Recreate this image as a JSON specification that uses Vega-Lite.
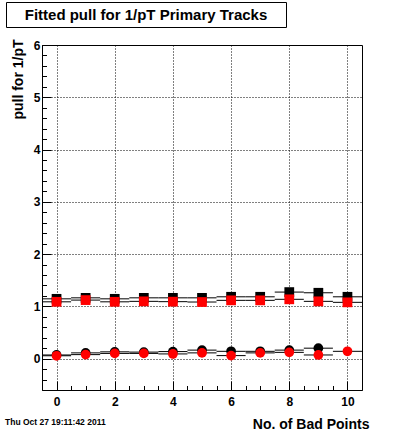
{
  "$schema": "https://vega.github.io/schema/vega-lite/v6.json",
  "padding": {"left": 4, "top": 1, "right": 0, "bottom": 0},
  "background": "white",
  "config": {"font": "Liberation Sans"},
  "spacing": 10,
  "vconcat": [
    {
      "width": 280,
      "height": 25,
      "data": {"values": [{"caption": "Fitted pull for 1/pT Primary Tracks"}]},
      "mark": {"type": "text", "font": "Liberation Sans", "fontWeight": "bold", "fontSize": 15, "color": "black"},
      "encoding": {"text": {"field": "caption", "type": "nominal"}},
      "view": {"stroke": "black", "strokeWidth": 1, "fill": "white"}
    },
    {
      "bounds": "flush",
      "spacing": 0,
      "hconcat": [
        {
          "width": 36,
          "height": 345,
          "data": {"values": []},
          "mark": "point",
          "view": {"stroke": null, "fill": null}
        },
        {
          "width": 320,
          "height": 345,
          "title": {"text": "Thu Oct 27 19:11:42 2011", "orient": "bottom", "anchor": "start", "frame": "group", "font": "Liberation Sans", "fontSize": 8.5, "fontWeight": "bold", "color": "black", "dx": -37, "dy": -17},
          "view": {"stroke": "black", "strokeWidth": 1},
          "data": {"values": [
            {"points": 0, "lo": -0.5, "hi": 0.5, "pull": 1.144, "hist": "black", "marker": "square"},
            {"points": 1, "lo": 0.5, "hi": 1.5, "pull": 1.163, "hist": "black", "marker": "square"},
            {"points": 2, "lo": 1.5, "hi": 2.5, "pull": 1.144, "hist": "black", "marker": "square"},
            {"points": 3, "lo": 2.5, "hi": 3.5, "pull": 1.163, "hist": "black", "marker": "square"},
            {"points": 4, "lo": 3.5, "hi": 4.5, "pull": 1.163, "hist": "black", "marker": "square"},
            {"points": 5, "lo": 4.5, "hi": 5.5, "pull": 1.163, "hist": "black", "marker": "square"},
            {"points": 6, "lo": 5.5, "hi": 6.5, "pull": 1.183, "hist": "black", "marker": "square"},
            {"points": 7, "lo": 6.5, "hi": 7.5, "pull": 1.183, "hist": "black", "marker": "square"},
            {"points": 8, "lo": 7.5, "hi": 8.5, "pull": 1.273, "hist": "black", "marker": "square"},
            {"points": 9, "lo": 8.5, "hi": 9.5, "pull": 1.26, "hist": "black", "marker": "square"},
            {"points": 10, "lo": 9.5, "hi": 10.5, "pull": 1.183, "hist": "black", "marker": "square"},
            {"points": 0, "lo": -0.5, "hi": 0.5, "pull": 0.07, "hist": "black", "marker": "circle"},
            {"points": 1, "lo": 0.5, "hi": 1.5, "pull": 0.11, "hist": "black", "marker": "circle"},
            {"points": 2, "lo": 1.5, "hi": 2.5, "pull": 0.13, "hist": "black", "marker": "circle"},
            {"points": 3, "lo": 2.5, "hi": 3.5, "pull": 0.125, "hist": "black", "marker": "circle"},
            {"points": 4, "lo": 3.5, "hi": 4.5, "pull": 0.135, "hist": "black", "marker": "circle"},
            {"points": 5, "lo": 4.5, "hi": 5.5, "pull": 0.163, "hist": "black", "marker": "circle"},
            {"points": 6, "lo": 5.5, "hi": 6.5, "pull": 0.14, "hist": "black", "marker": "circle"},
            {"points": 7, "lo": 6.5, "hi": 7.5, "pull": 0.14, "hist": "black", "marker": "circle"},
            {"points": 8, "lo": 7.5, "hi": 8.5, "pull": 0.163, "hist": "black", "marker": "circle"},
            {"points": 9, "lo": 8.5, "hi": 9.5, "pull": 0.2, "hist": "black", "marker": "circle"},
            {"points": 0, "lo": -0.5, "hi": 0.5, "pull": 1.087, "hist": "red", "marker": "square"},
            {"points": 1, "lo": 0.5, "hi": 1.5, "pull": 1.12, "hist": "red", "marker": "square"},
            {"points": 2, "lo": 1.5, "hi": 2.5, "pull": 1.087, "hist": "red", "marker": "square"},
            {"points": 3, "lo": 2.5, "hi": 3.5, "pull": 1.096, "hist": "red", "marker": "square"},
            {"points": 4, "lo": 3.5, "hi": 4.5, "pull": 1.09, "hist": "red", "marker": "square"},
            {"points": 5, "lo": 4.5, "hi": 5.5, "pull": 1.083, "hist": "red", "marker": "square"},
            {"points": 6, "lo": 5.5, "hi": 6.5, "pull": 1.115, "hist": "red", "marker": "square"},
            {"points": 7, "lo": 6.5, "hi": 7.5, "pull": 1.115, "hist": "red", "marker": "square"},
            {"points": 8, "lo": 7.5, "hi": 8.5, "pull": 1.135, "hist": "red", "marker": "square"},
            {"points": 9, "lo": 8.5, "hi": 9.5, "pull": 1.096, "hist": "red", "marker": "square"},
            {"points": 10, "lo": 9.5, "hi": 10.5, "pull": 1.077, "hist": "red", "marker": "square"},
            {"points": 0, "lo": -0.5, "hi": 0.5, "pull": 0.055, "hist": "red", "marker": "circle"},
            {"points": 1, "lo": 0.5, "hi": 1.5, "pull": 0.077, "hist": "red", "marker": "circle"},
            {"points": 2, "lo": 1.5, "hi": 2.5, "pull": 0.1, "hist": "red", "marker": "circle"},
            {"points": 3, "lo": 2.5, "hi": 3.5, "pull": 0.1, "hist": "red", "marker": "circle"},
            {"points": 4, "lo": 3.5, "hi": 4.5, "pull": 0.09, "hist": "red", "marker": "circle"},
            {"points": 5, "lo": 4.5, "hi": 5.5, "pull": 0.11, "hist": "red", "marker": "circle"},
            {"points": 6, "lo": 5.5, "hi": 6.5, "pull": 0.058, "hist": "red", "marker": "circle"},
            {"points": 7, "lo": 6.5, "hi": 7.5, "pull": 0.11, "hist": "red", "marker": "circle"},
            {"points": 8, "lo": 7.5, "hi": 8.5, "pull": 0.12, "hist": "red", "marker": "circle"},
            {"points": 9, "lo": 8.5, "hi": 9.5, "pull": 0.07, "hist": "red", "marker": "circle"},
            {"points": 10, "lo": 9.5, "hi": 10.5, "pull": 0.14, "hist": "red", "marker": "circle"}
          ]},
          "resolve": {"axis": {"x": "independent", "y": "independent"}},
          "layer": [
            {
              "mark": {"type": "rule", "color": "black", "strokeWidth": 1},
              "encoding": {
                "x": {"field": "lo", "type": "quantitative",
                  "scale": {"domain": [-0.5, 10.5], "nice": false, "zero": false},
                  "axis": {"orient": "bottom", "values": [0, 2, 4, 6, 8, 10], "format": "d",
                    "grid": true, "gridDash": [1, 2], "gridColor": "black", "gridOpacity": 1, "gridWidth": 1,
                    "domainColor": "black", "domainWidth": 1, "tickColor": "black", "tickSize": -9, "tickWidth": 1,
                    "labelFont": "Liberation Sans", "labelFontWeight": "bold", "labelFontSize": 12, "labelColor": "black", "labelPadding": 15,
                    "title": "No. of Bad Points", "titleFont": "Liberation Sans", "titleFontSize": 14, "titleFontWeight": "bold", "titleColor": "black",
                    "titleAnchor": "end", "titleAlign": "right", "titleX": 327, "titleY": 38, "titleBaseline": "alphabetic"}},
                "x2": {"field": "hi"},
                "y": {"field": "pull", "type": "quantitative",
                  "scale": {"domain": [-0.6, 6], "nice": false, "zero": false},
                  "axis": {"orient": "left", "values": [0, 1, 2, 3, 4, 5, 6], "format": "d",
                    "grid": true, "gridDash": [1, 2], "gridColor": "black", "gridOpacity": 1, "gridWidth": 1,
                    "domainColor": "black", "domainWidth": 1, "tickColor": "black", "tickSize": -9, "tickWidth": 1,
                    "labelFont": "Liberation Sans", "labelFontWeight": "bold", "labelFontSize": 12, "labelColor": "black", "labelPadding": 11,
                    "title": "pull for 1/pT", "titleFont": "Liberation Sans", "titleFontSize": 14, "titleFontWeight": "bold", "titleColor": "black",
                    "titleAnchor": "end", "titleAlign": "right", "titleX": -17, "titleY": -6, "titleBaseline": "bottom"}}
              }
            },
            {
              "mark": {"type": "point", "filled": true, "opacity": 1, "size": 95},
              "encoding": {
                "x": {"field": "points", "type": "quantitative",
                  "scale": {"domain": [-0.5, 10.5], "nice": false, "zero": false},
                  "axis": {"orient": "bottom", "values": [0.5, 1, 1.5, 2.5, 3, 3.5, 4.5, 5, 5.5, 6.5, 7, 7.5, 8.5, 9, 9.5],
                    "labels": false, "grid": false, "domain": false, "title": null,
                    "tickColor": "black", "tickSize": -4.5, "tickWidth": 1}},
                "y": {"field": "pull", "type": "quantitative",
                  "scale": {"domain": [-0.6, 6], "nice": false, "zero": false},
                  "axis": {"orient": "left", "values": [-0.4, -0.2, 0.2, 0.4, 0.6, 0.8, 1.2, 1.4, 1.6, 1.8, 2.2, 2.4, 2.6, 2.8, 3.2, 3.4, 3.6, 3.8, 4.2, 4.4, 4.6, 4.8, 5.2, 5.4, 5.6, 5.8],
                    "labels": false, "grid": false, "domain": false, "title": null,
                    "tickColor": "black", "tickSize": -4.5, "tickWidth": 1}},
                "color": {"field": "hist", "type": "nominal", "scale": {"domain": ["black", "red"], "range": ["#000000", "#ff0000"]}, "legend": null},
                "shape": {"field": "marker", "type": "nominal", "scale": {"domain": ["square", "circle"], "range": ["square", "circle"]}, "legend": null}
              }
            }
          ]
        }
      ]
    }
  ]
}
